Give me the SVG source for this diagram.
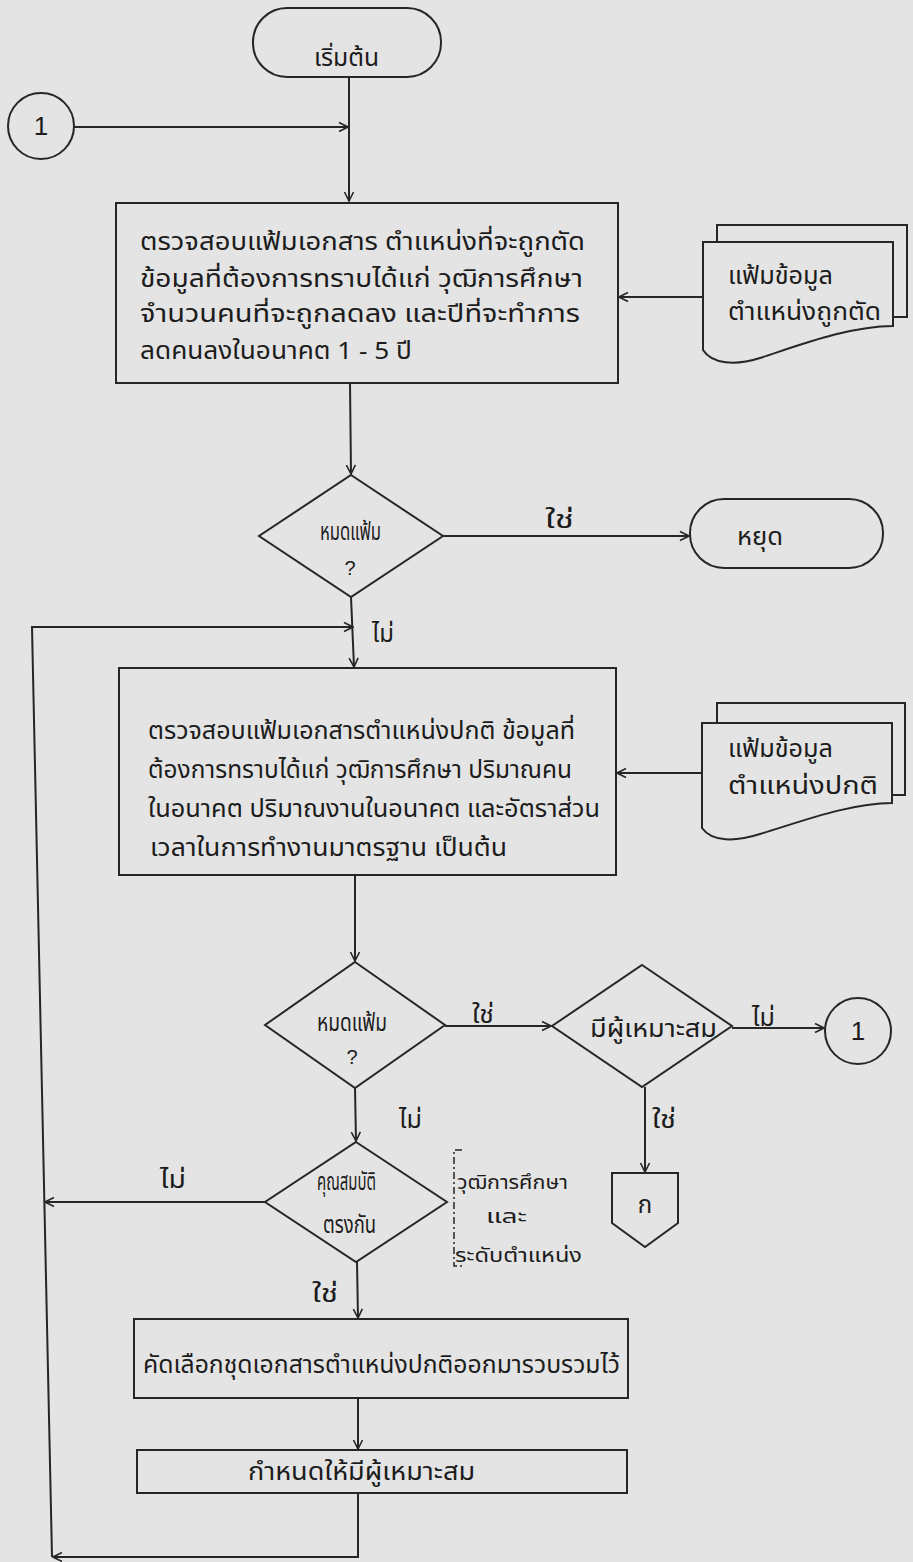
<svg xmlns="http://www.w3.org/2000/svg" width="913" height="1562" viewBox="0 0 913 1562">
<style>
.s{fill:none;stroke:#262626;stroke-width:2}
.c{fill:none;stroke:#262626;stroke-width:2}
.t{font-family:'Noto Sans Thai','Loma','Garuda','Norasi','Noto Sans','DejaVu Sans',sans-serif;font-size:24px;fill:#1c1c1c}
.a{font-size:20px}
.n{font-family:'Liberation Sans',Arial,sans-serif;font-size:26px;fill:#1c1c1c;text-anchor:middle}
.q{font-family:'Liberation Sans',Arial,sans-serif;font-size:20px;fill:#1c1c1c;text-anchor:middle}
.m{text-anchor:middle}
</style>
<defs>
<marker id="arr" viewBox="0 0 12 12" refX="11" refY="6" markerWidth="12" markerHeight="12" orient="auto" markerUnits="userSpaceOnUse">
<path d="M2,1.5 L11,6 L2,10.5" fill="none" stroke="#262626" stroke-width="1.6"/>
</marker>
</defs>
<rect x="0" y="0" width="913" height="1562" fill="#e4e4e4"/>

<g id="connectors">
<path class="c" d="M349,77 V201" marker-end="url(#arr)"/>
<path class="c" d="M74,127 H348" marker-end="url(#arr)"/>
<path class="c" d="M703,297 H619" marker-end="url(#arr)"/>
<path class="c" d="M350,383 L351,474" marker-end="url(#arr)"/>
<path class="c" d="M443,536 H689" marker-end="url(#arr)"/>
<path class="c" d="M351,597 L354,667" marker-end="url(#arr)"/>
<path class="c" d="M52,1557 L32,627 H353" marker-end="url(#arr)"/>
<path class="c" d="M358,1493 V1557 H53" marker-end="url(#arr)"/>
<path class="c" d="M702,773 H617" marker-end="url(#arr)"/>
<path class="c" d="M355,875 V961" marker-end="url(#arr)"/>
<path class="c" d="M445,1026 H551" marker-end="url(#arr)"/>
<path class="c" d="M732,1028 H824" marker-end="url(#arr)"/>
<path class="c" d="M645,1087 V1172" marker-end="url(#arr)"/>
<path class="c" d="M355,1088 L356,1141" marker-end="url(#arr)"/>
<path class="c" d="M265,1202 H45" marker-end="url(#arr)"/>
<path class="c" d="M357,1262 L358,1318" marker-end="url(#arr)"/>
<path class="c" d="M358,1398 V1449" marker-end="url(#arr)"/>
<text class="t" x="545" y="528" textLength="29" lengthAdjust="spacingAndGlyphs">ใช่</text>
<text class="t" x="372" y="642" textLength="22" lengthAdjust="spacingAndGlyphs">ไม่</text>
<text class="t" x="472" y="1023" textLength="22" lengthAdjust="spacingAndGlyphs">ใช่</text>
<text class="t" x="752" y="1026" textLength="23" lengthAdjust="spacingAndGlyphs">ไม่</text>
<text class="t" x="652" y="1128" textLength="24" lengthAdjust="spacingAndGlyphs">ใช่</text>
<text class="t" x="399" y="1128" textLength="23" lengthAdjust="spacingAndGlyphs">ไม่</text>
<text class="t" x="160" y="1188" textLength="26" lengthAdjust="spacingAndGlyphs">ไม่</text>
<text class="t" x="312" y="1302" textLength="26" lengthAdjust="spacingAndGlyphs">ใช่</text>
</g>

<g id="start">
<rect class="s" x="253" y="8" width="188" height="69" rx="34" ry="34"/>
<text class="t" x="314" y="66" textLength="65" lengthAdjust="spacingAndGlyphs">เริ่มต้น</text>
</g>

<g id="connector1-in">
<circle class="s" cx="41" cy="126" r="33"/>
<text class="n" x="41" y="135">1</text>
</g>

<g id="process1">
<rect class="s" x="116" y="203" width="502" height="180"/>
<text class="t" x="140" y="250" textLength="445" lengthAdjust="spacingAndGlyphs">ตรวจสอบแฟ้มเอกสาร ตำแหน่งที่จะถูกตัด</text>
<text class="t" x="140" y="287" textLength="443" lengthAdjust="spacingAndGlyphs">ข้อมูลที่ต้องการทราบได้แก่ วุฒิการศึกษา</text>
<text class="t" x="140" y="322" textLength="440" lengthAdjust="spacingAndGlyphs">จำนวนคนที่จะถูกลดลง และปีที่จะทำการ</text>
<text class="t" x="140" y="359" textLength="272" lengthAdjust="spacingAndGlyphs">ลดคนลงในอนาคต 1 - 5 ปี</text>
</g>

<g id="file1">
<path class="s" d="M717,242 V225 H907 V317 H893"/>
<path class="s" d="M703,242 H893 V326 C850,326 800,345 760,358 C735,366 712,364 703,350 Z"/>
<text class="t" x="728" y="284" textLength="105" lengthAdjust="spacingAndGlyphs">แฟ้มข้อมูล</text>
<text class="t" x="728" y="320" textLength="153" lengthAdjust="spacingAndGlyphs">ตำแหน่งถูกตัด</text>
</g>

<g id="decision1">
<path class="s" d="M351,475 L443,536 L351,597 L259,536 Z"/>
<text class="t" x="320" y="540" textLength="61" lengthAdjust="spacingAndGlyphs">หมดแฟ้ม</text>
<text class="q" x="350" y="575">?</text>
</g>

<g id="stop">
<rect class="s" x="690" y="499" width="193" height="69" rx="34" ry="34"/>
<text class="t" x="737" y="545" textLength="46" lengthAdjust="spacingAndGlyphs">หยุด</text>
</g>

<g id="process2">
<rect class="s" x="119" y="668" width="497" height="207"/>
<text class="t" x="148" y="739" textLength="427" lengthAdjust="spacingAndGlyphs">ตรวจสอบแฟ้มเอกสารตำแหน่งปกติ ข้อมูลที่</text>
<text class="t" x="148" y="778" textLength="424" lengthAdjust="spacingAndGlyphs">ต้องการทราบได้แก่ วุฒิการศึกษา ปริมาณคน</text>
<text class="t" x="148" y="817" textLength="452" lengthAdjust="spacingAndGlyphs">ในอนาคต ปริมาณงานในอนาคต และอัตราส่วน</text>
<text class="t" x="150" y="856" textLength="357" lengthAdjust="spacingAndGlyphs">เวลาในการทำงานมาตรฐาน เป็นต้น</text>
</g>

<g id="file2">
<path class="s" d="M717,723 V703 H905 V795 H892"/>
<path class="s" d="M702,723 H892 V803 C850,803 800,822 760,834 C735,842 712,842 702,828 Z"/>
<text class="t" x="728" y="757" textLength="105" lengthAdjust="spacingAndGlyphs">แฟ้มข้อมูล</text>
<text class="t" x="728" y="794" textLength="150" lengthAdjust="spacingAndGlyphs">ตำแหน่งปกติ</text>
</g>

<g id="decision2">
<path class="s" d="M355,962 L445,1025 L355,1088 L265,1025 Z"/>
<text class="t" x="317" y="1031" textLength="70" lengthAdjust="spacingAndGlyphs">หมดแฟ้ม</text>
<text class="q" x="352" y="1064">?</text>
</g>

<g id="decision3">
<path class="s" d="M642,965 L732,1026 L642,1087 L552,1026 Z"/>
<text class="t" x="590" y="1037" textLength="127" lengthAdjust="spacingAndGlyphs">มีผู้เหมาะสม</text>
</g>

<g id="connector1-out">
<circle class="s" cx="858" cy="1031" r="33"/>
<text class="n" x="858" y="1040">1</text>
</g>

<g id="offpage-k">
<path class="s" d="M612,1173 H678 V1223 L645,1247 L612,1223 Z"/>
<text class="t m" x="645" y="1213">ก</text>
</g>

<g id="decision4">
<path class="s" d="M356,1142 L447,1202 L356,1262 L265,1202 Z"/>
<text class="t" x="317" y="1190" textLength="59" lengthAdjust="spacingAndGlyphs">คุณสมบัติ</text>
<text class="t" x="323" y="1233" textLength="53" lengthAdjust="spacingAndGlyphs">ตรงกัน</text>
</g>

<g id="annotation">
<path d="M462,1150 H454 V1266 H462" fill="none" stroke="#262626" stroke-width="1.5" stroke-dasharray="7,3,2,3"/>
<text class="t a" x="457" y="1189" textLength="111" lengthAdjust="spacingAndGlyphs">วุฒิการศึกษา</text>
<text class="t a" x="486" y="1223" textLength="41" lengthAdjust="spacingAndGlyphs">และ</text>
<text class="t a" x="455" y="1262" textLength="127" lengthAdjust="spacingAndGlyphs">ระดับตำแหน่ง</text>
</g>

<g id="process3">
<rect class="s" x="134" y="1319" width="494" height="79"/>
<text class="t" x="143" y="1373" textLength="477" lengthAdjust="spacingAndGlyphs">คัดเลือกชุดเอกสารตำแหน่งปกติออกมารวบรวมไว้</text>
</g>

<g id="process4">
<rect class="s" x="137" y="1450" width="490" height="43"/>
<text class="t" x="248" y="1480" textLength="227" lengthAdjust="spacingAndGlyphs">กำหนดให้มีผู้เหมาะสม</text>
</g>
</svg>
